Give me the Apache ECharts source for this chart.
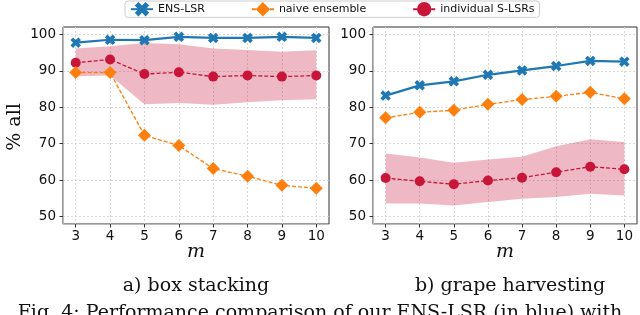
<!DOCTYPE html>
<html>
<head>
<meta charset="utf-8">
<script src="https://cdn.jsdelivr.net/npm/echarts@6/dist/echarts.min.js"></script>
<style>html,body{margin:0;padding:0;background:#fff}#c{width:640px;height:315px}</style>
</head>
<body>
<div id="c"></div>
<script>
// ---- data ----
const mValues = [3, 4, 5, 6, 7, 8, 9, 10];
const yTicks = [50, 60, 70, 80, 90, 100];

// a) box stacking
const boxEns = [97.7, 98.5, 98.4, 99.3, 99.0, 99.0, 99.3, 99.0];
const boxNaive = [89.5, 89.5, 72.3, 69.5, 63.2, 61.1, 58.6, 57.8];
const boxIndiv = [92.2, 93.1, 89.1, 89.6, 88.4, 88.7, 88.4, 88.7];
const boxIndivHi = [96.1, 96.7, 97.6, 97.3, 96.1, 95.7, 95.2, 95.6];
const boxIndivLo = [88.5, 88.7, 80.8, 81.2, 80.7, 81.4, 81.9, 82.2];

// b) grape harvesting
const grapeEns = [83.2, 86.0, 87.1, 88.9, 90.1, 91.3, 92.7, 92.5];
const grapeNaive = [77.1, 78.6, 79.2, 80.8, 82.1, 83.0, 84.1, 82.3];
const grapeIndiv = [60.6, 59.7, 58.9, 59.9, 60.7, 62.2, 63.7, 63.0];
const grapeIndivHi = [67.3, 66.2, 64.8, 65.7, 66.4, 69.3, 71.2, 70.5];
const grapeIndivLo = [53.6, 53.6, 53.1, 54.0, 54.9, 55.4, 56.3, 55.8];

const names = ['ENS-LSR', 'naive ensemble', 'individual S-LSRs'];
const captions = ['a) box stacking', 'b) grape harvesting'];
const figCaption = 'Fig. 4: Performance comparison of our ENS-LSR (in blue) with';

// ---- styling ----
const BLUE = '#1f77b4', ORANGE = '#ff7f0e', RED = '#c8163a';
const BAND = 'rgba(200,22,58,0.3)';
const XPATH = 'path://M0,2.5 L2.5,0 L5,2.5 L7.5,0 L10,2.5 L7.5,5 L10,7.5 L7.5,10 L5,7.5 L2.5,10 L0,7.5 L2.5,5 Z';
const tickFont = {fontFamily: 'DejaVu Sans', fontSize: 13.5, color: '#111'};
const gridLine = {show: true, lineStyle: {color: '#d0d0d0', type: [2, 2], width: 0.8}};

const chart = echarts.init(document.getElementById('c'), null, {renderer: 'canvas'});

const grids = [
  {left: 63, right: 311, top: 27, bottom: 91},
  {left: 373, right: 3, top: 27, bottom: 91}
];

function xAxis(i) {
  return {
    type: 'value', gridIndex: i, min: 2.63, max: 10.37,
    axisLine: {show: true, onZero: false, lineStyle: {color: '#bbb', width: 1}},
    axisTick: {show: true, length: 3.5, customValues: mValues, lineStyle: {color: '#333'}},
    axisLabel: Object.assign({customValues: mValues, margin: 5}, tickFont),
    splitLine: gridLine
  };
}
function yAxis(i) {
  return {
    type: 'value', gridIndex: i, min: 48, max: 102,
    axisLine: {show: true, onZero: false, lineStyle: {color: '#bbb', width: 1}},
    axisTick: {show: true, length: 3.5, customValues: yTicks, lineStyle: {color: '#333'}},
    axisLabel: Object.assign({customValues: yTicks, margin: 7}, tickFont),
    splitLine: gridLine
  };
}

function band(i, lo, hi) {
  return {
    type: 'custom', xAxisIndex: i, yAxisIndex: i, silent: true, z: 1,
    data: mValues.map((x, k) => [x, lo[k], hi[k]]),
    renderItem: function (params, api) {
      if (params.dataIndex !== 0) return null;
      const pts = [];
      for (let k = 0; k < mValues.length; k++) pts.push(api.coord([mValues[k], hi[k]]));
      for (let k = mValues.length - 1; k >= 0; k--) pts.push(api.coord([mValues[k], lo[k]]));
      return {type: 'polygon', shape: {points: pts}, style: {fill: BAND}};
    }
  };
}

function lines(i, ens, naive, indiv) {
  const xy = arr => mValues.map((x, k) => [x, arr[k]]);
  return [
    {name: names[2], type: 'line', xAxisIndex: i, yAxisIndex: i, data: xy(indiv), z: 3,
     symbol: 'circle', symbolSize: 10, itemStyle: {color: RED},
     lineStyle: {color: RED, width: 1.3, type: [4, 2]}},
    {name: names[1], type: 'line', xAxisIndex: i, yAxisIndex: i, data: xy(naive), z: 4,
     symbol: 'diamond', symbolSize: 13, itemStyle: {color: ORANGE},
     lineStyle: {color: ORANGE, width: 1.3, type: [4, 2]}},
    {name: names[0], type: 'line', xAxisIndex: i, yAxisIndex: i, data: xy(ens), z: 5,
     symbol: XPATH, symbolSize: 10.5, itemStyle: {color: BLUE},
     lineStyle: {color: BLUE, width: 2.2}}
  ];
}

const serif = 'DejaVu Serif';
const option = {
  animation: false,
  backgroundColor: '#fff',
  grid: grids.map(g => Object.assign({show: true, borderColor: '#333', borderWidth: 1, backgroundColor: 'transparent'}, g)),
  xAxis: [xAxis(0), xAxis(1)],
  yAxis: [yAxis(0), yAxis(1)],
  legend: {
    data: names, left: 125, top: 1, orient: 'horizontal',
    padding: [1, 5], itemGap: 46, itemWidth: 22, itemHeight: 18,
    borderColor: '#ccc', borderWidth: 1, borderRadius: 3, backgroundColor: '#fff',
    textStyle: {fontFamily: 'DejaVu Sans', fontSize: 11, color: '#111'}
  },
  series: [
    band(0, boxIndivLo, boxIndivHi),
    ...lines(0, boxEns, boxNaive, boxIndiv),
    band(1, grapeIndivLo, grapeIndivHi),
    ...lines(1, grapeEns, grapeNaive, grapeIndiv)
  ],
  graphic: [
    {type: 'text', x: 15, y: 127, rotation: Math.PI / 2, style: {text: '% all', font: '19px "' + serif + '"', fill: '#111', align: 'center', verticalAlign: 'middle'}},
    {type: 'text', x: 196, y: 252, style: {text: 'm', font: 'italic 19px "' + serif + '"', fill: '#111', align: 'center', verticalAlign: 'middle'}},
    {type: 'text', x: 505, y: 252, style: {text: 'm', font: 'italic 19px "' + serif + '"', fill: '#111', align: 'center', verticalAlign: 'middle'}},
    {type: 'text', x: 196, y: 286, style: {text: captions[0], font: '19px "' + serif + '"', fill: '#111', align: 'center', verticalAlign: 'middle'}},
    {type: 'text', x: 510, y: 286, style: {text: captions[1], font: '19px "' + serif + '"', fill: '#111', align: 'center', verticalAlign: 'middle'}},
    {type: 'text', x: 320, y: 313, style: {text: figCaption, font: '19px "' + serif + '"', fill: '#111', align: 'center', verticalAlign: 'middle'}}
  ]
};
chart.setOption(option);
</script>
</body>
</html>
